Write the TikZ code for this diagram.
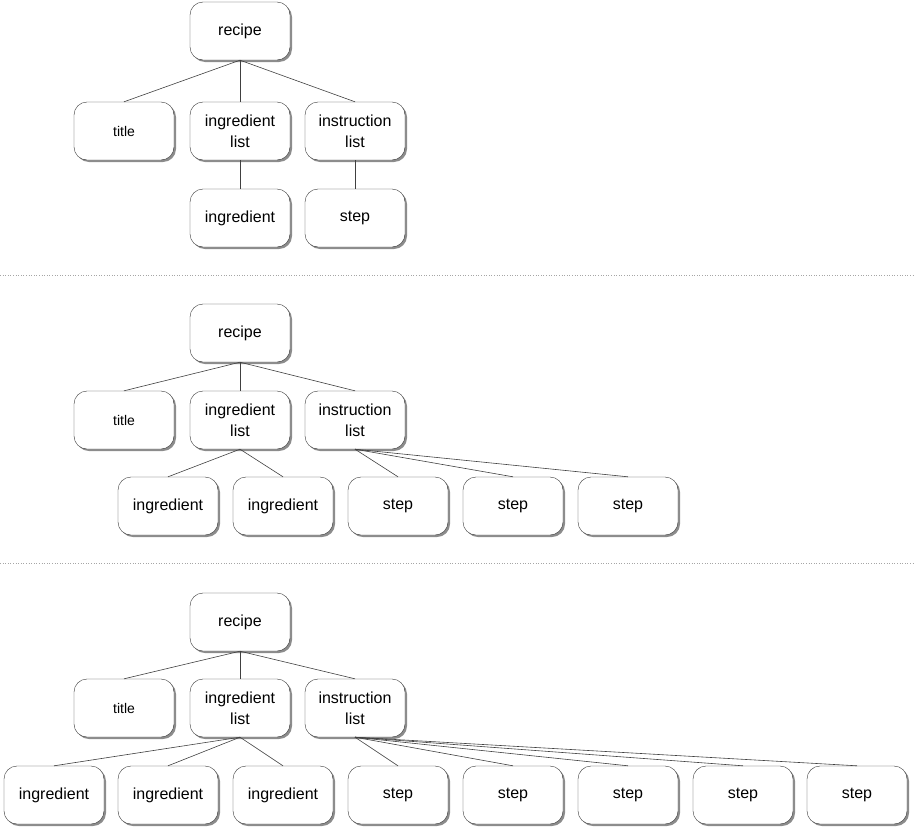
\documentclass[tikz,border=0pt]{standalone}
\usepackage{fontspec}
\setmainfont{Liberation Sans}
\usetikzlibrary{shadows}
\begin{document}
\begin{tikzpicture}[x=1pt,y=-1pt,
  box/.style={draw=black!80,rounded corners=13pt,minimum width=100pt,minimum height=58pt,fill=white,align=center,font=\fontsize{16}{21}\selectfont,inner sep=1pt,
    drop shadow={shadow xshift=2pt,shadow yshift=-2pt,fill=black!45,opacity=1}},
  small/.style={font=\fontsize{14}{18}\selectfont},
  edge/.style={draw=black!75,line width=0.6pt},
  sep/.style={draw=black!35,dotted,line width=0.6pt}]
\useasboundingbox (0,0) rectangle (915,830);
\draw[sep] (0,275) -- (915,275);
\draw[sep] (0,563) -- (915,563);
% panel 1
\node[box] (r1) at (240,31) {recipe};
\node[box,small] (t1) at (124,131) {title};
\node[box] (il1) at (240,131) {ingredient\\list};
\node[box] (sl1) at (355,131) {instruction\\list};
\node[box] (i1a) at (240,218) {ingredient};
\node[box] (s1a) at (355,218) {step};
% panel 2
\node[box] (r2) at (240,333) {recipe};
\node[box,small] (t2) at (124,420) {title};
\node[box] (il2) at (240,420) {ingredient\\list};
\node[box] (sl2) at (355,420) {instruction\\list};
\node[box] (i2a) at (168,506) {ingredient};
\node[box] (i2b) at (283,506) {ingredient};
\node[box] (s2a) at (398,506) {step};
\node[box] (s2b) at (513,506) {step};
\node[box] (s2c) at (628,506) {step};
% panel 3
\node[box] (r3) at (240,622) {recipe};
\node[box,small] (t3) at (124,708) {title};
\node[box] (il3) at (240,708) {ingredient\\list};
\node[box] (sl3) at (355,708) {instruction\\list};
\node[box] (i3a) at (54,795) {ingredient};
\node[box] (i3b) at (168,795) {ingredient};
\node[box] (i3c) at (283,795) {ingredient};
\node[box] (s3a) at (398,795) {step};
\node[box] (s3b) at (513,795) {step};
\node[box] (s3c) at (628,795) {step};
\node[box] (s3d) at (743,795) {step};
\node[box] (s3e) at (857,795) {step};
\foreach \p/\c in {r1/t1,r1/il1,r1/sl1,il1/i1a,sl1/s1a,
  r2/t2,r2/il2,r2/sl2,il2/i2a,il2/i2b,sl2/s2a,sl2/s2b,sl2/s2c,
  r3/t3,r3/il3,r3/sl3,il3/i3a,il3/i3b,il3/i3c,sl3/s3a,sl3/s3b,sl3/s3c,sl3/s3d,sl3/s3e}
  \draw[edge] (\p.south) -- (\c.north);
\end{tikzpicture}
\end{document}
